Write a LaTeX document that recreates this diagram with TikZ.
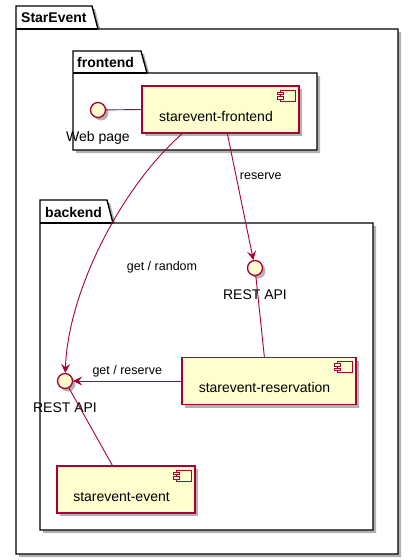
\documentclass[tikz,border=0pt]{standalone}
\usepackage{fontspec}
\setmainfont{Liberation Sans}
\usetikzlibrary{arrows.meta,positioning,shadows}

\definecolor{umlred}{HTML}{A80036}
\definecolor{umlfill}{HTML}{FEFECE}

% package outline: left, tab top, tab right, body top, right, bottom
\newcommand{\umlpkg}[6]{%
  \draw[pkg] (#1,#4) -- (#1,#2) -- ({#3-6},#2) -- (#3,#4) -- (#5,#4) -- (#5,#6) -- (#1,#6) -- cycle;
  \draw[pkgline] (#1,#4) -- (#3,#4);
}
% component icon in the top right corner of a node
\newcommand{\compicon}[1]{%
  \draw[icon] ([xshift=-19pt,yshift=-5pt]#1.north east) rectangle ([xshift=-4pt,yshift=-16pt]#1.north east);
  \draw[icon] ([xshift=-22pt,yshift=-7pt]#1.north east) rectangle ([xshift=-16pt,yshift=-9.5pt]#1.north east);
  \draw[icon] ([xshift=-22pt,yshift=-11.5pt]#1.north east) rectangle ([xshift=-16pt,yshift=-14pt]#1.north east);
}

\begin{document}
\begin{tikzpicture}[x=1pt,y=-1pt,>={Stealth[length=9pt,width=9pt,inset=3.5pt]},
    umlshadow/.style={drop shadow={shadow xshift=3pt,shadow yshift=-3pt,opacity=.3,fill=black}},
    pkg/.style={draw=black,line width=1.4pt,fill=white,umlshadow},
    pkgline/.style={draw=black,line width=1.4pt},
    pkglabel/.style={anchor=west,inner sep=0pt,font=\fontsize{14}{16}\selectfont\bfseries},
    component/.style={draw=umlred,fill=umlfill,line width=1.3pt,umlshadow,
      inner xsep=0pt,inner ysep=0pt,text height=35pt,text depth=12pt,
      font=\fontsize{14}{16}\selectfont,execute at end node={\hspace*{9pt}}},
    icon/.style={draw=umlred,fill=umlfill,line width=1pt},
    iface/.style={circle,draw=umlred,fill=umlfill,line width=1.3pt,umlshadow,
      minimum size=15pt,inner sep=0pt},
    ifacelabel/.style={inner sep=0pt,font=\fontsize{14}{16}\selectfont},
    link/.style={umlred,line width=0.9pt},
    linklabel/.style={text=black,font=\fontsize{12.5}{14}\selectfont}]
  \useasboundingbox (0,0) rectangle (413,560);

  \umlpkg{16}{6}{98}{29}{398}{554}
  \node (starevent) [pkglabel] at (21,17.5) {StarEvent};

  \umlpkg{73}{51}{147}{73}{317}{150}
  \node (frontendpkg) [pkglabel] at (77,62) {frontend};

  \umlpkg{40}{200}{113}{223}{373}{530}
  \node (backendpkg) [pkglabel] at (45,212) {backend};

  \node[iface] (web) at (98,110) {};
  \node[ifacelabel] (webl) [below=13.5pt of web] {Web page};
  \node[component,minimum width=157pt] (front) at (220.5,109.5) {starevent-frontend};
  \compicon{front}

  \node[iface] (rest1) at (255,268) {};
  \node[ifacelabel] (rest1l) [below=13.5pt of rest1] {REST API};
  \node[component,minimum width=174pt] (resv) at (269,381) {starevent-reservation};
  \compicon{resv}

  \node[iface] (rest2) at (65,381) {};
  \node[ifacelabel] (rest2l) [below=13.5pt of rest2] {REST API};
  \node[component,minimum width=138pt] (event) at (126,489.5) {starevent-event};
  \compicon{event}

  \node[linklabel] (random) at (162,267) {get / random};

  \draw[link] (web) -- (front.west);
  \draw[link,->] ([xshift=86pt]front.south west) -- node[linklabel,right,pos=0.34] {reserve} (rest1);
  \draw[link,->] ([xshift=41pt]front.south west) .. controls (123,185) and (68,290) .. (rest2);
  \draw[link] (rest1) -- ([xshift=83pt]resv.north west);
  \draw[link,->] (resv.west) -- node[linklabel,above] {get / reserve} (rest2);
  \draw[link] (rest2) -- ([xshift=56pt]event.north west);
\end{tikzpicture}
\end{document}
